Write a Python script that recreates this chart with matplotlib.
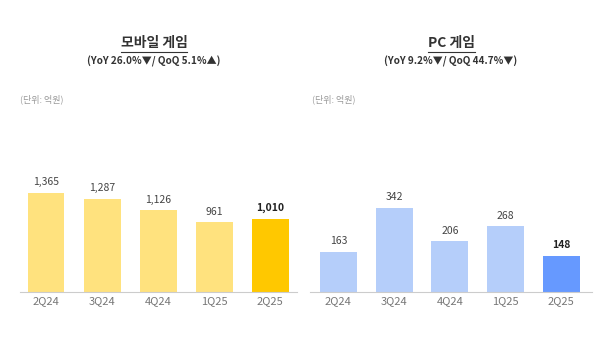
import matplotlib
matplotlib.use("Agg")
import matplotlib.pyplot as plt
from matplotlib.lines import Line2D

plt.rcParams['font.family'] = ['Noto Sans CJK KR', 'DejaVu Sans']

quarters = ['2Q24', '3Q24', '4Q24', '1Q25', '2Q25']
mobile = [1365, 1287, 1126, 961, 1010]
pc = [163, 342, 206, 268, 148]
mobile_title = '모바일 게임'
mobile_sub = '(YoY 26.0%▼/ QoQ 5.1%▲)'
pc_title = 'PC 게임'
pc_sub = '(YoY 9.2%▼/ QoQ 44.7%▼)'
unit = '(단위: 억원)'

W, H = 600, 355
fig = plt.figure(figsize=(W / 100, H / 100), dpi=100)


def px_axes(x0, x1, y_top, y_base):
    # figure-pixel box (y measured from top) -> axes
    return fig.add_axes([x0 / W, 1 - y_base / H, (x1 - x0) / W, (y_base - y_top) / H])


def draw_panel(ax, vals, light, dark, xlim, ymax):
    x = list(range(len(vals)))
    colors = [light] * (len(vals) - 1) + [dark]
    ax.bar(x, vals, width=0.66, color=colors)
    for i, v in enumerate(vals):
        last = i == len(vals) - 1
        ax.annotate(f'{v:,}', (i, v), xytext=(0, 4), textcoords='offset points',
                    ha='center', va='bottom', fontsize=7.5,
                    color='#222222' if last else '#444444',
                    fontweight='bold' if last else 'normal')
    ax.set_xlim(*xlim)
    ax.set_ylim(0, ymax)
    ax.set_xticks(x)
    ax.set_xticklabels(quarters, fontsize=8, color='#777777')
    ax.tick_params(axis='x', length=0, pad=3)
    ax.set_yticks([])
    for s in ['top', 'right', 'left']:
        ax.spines[s].set_visible(False)
    ax.spines['bottom'].set_color('#cccccc')
    ax.spines['bottom'].set_linewidth(0.8)


ax1 = px_axes(20, 297, 170, 292)
draw_panel(ax1, mobile, '#FFE27E', '#FFC800', (-0.464, 4.48), 1680)
ax2 = px_axes(310, 592, 170, 292)
draw_panel(ax2, pc, '#B5CEFA', '#6699FF', (-0.51, 4.55), 497)

renderer = fig.canvas.get_renderer()
for cx, title, sub in [(154, mobile_title, mobile_sub), (451, pc_title, pc_sub)]:
    t = fig.text(cx / W, 1 - 43 / H, title, ha='center', va='center',
                 fontsize=10, fontweight='bold', color='#333333')
    fig.text(cx / W, 1 - 61 / H, sub, ha='center', va='center',
             fontsize=7.2, fontweight='bold', color='#333333')
    bb = t.get_window_extent(renderer)
    fig.add_artist(Line2D([bb.x0 / W, bb.x1 / W], [1 - 51.5 / H] * 2,
                          transform=fig.transFigure, color='#333333', lw=0.8))

fig.text(20 / W, 1 - 99 / H, unit, ha='left', va='center', fontsize=6.5, color='#999999')
fig.text(312 / W, 1 - 99 / H, unit, ha='left', va='center', fontsize=6.5, color='#999999')

fig.savefig('out.png', dpi=100, facecolor='white')
